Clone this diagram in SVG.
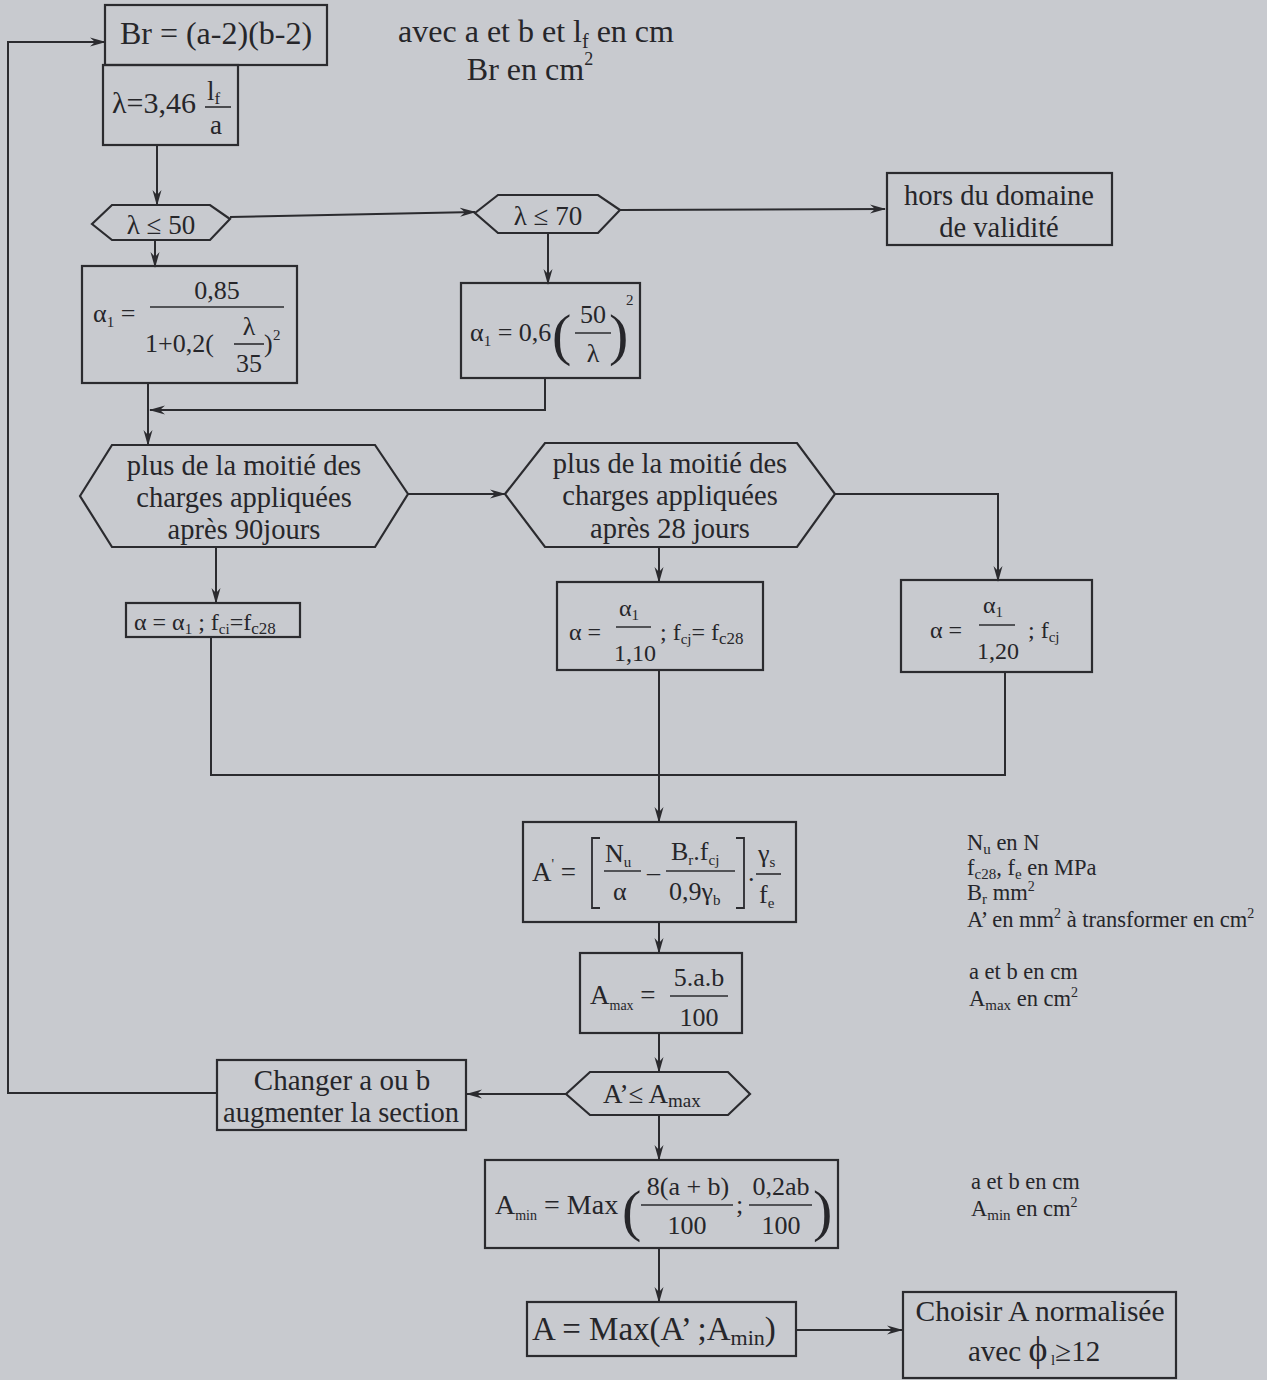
<svg xmlns="http://www.w3.org/2000/svg" width="1267" height="1380" viewBox="0 0 1267 1380" font-family="'Liberation Serif', 'Times New Roman', 'DejaVu Serif', serif">
<defs>
<marker id="arr" viewBox="0 0 16 10" markerWidth="16" markerHeight="10" refX="15" refY="5" orient="auto" markerUnits="userSpaceOnUse">
<path d="M0,0.5 L16,5 L0,9.5 L5,5 z" fill="#2b2b2f"/>
</marker>
<style>
.bg{fill:#c8cacf}
.n{fill:none;stroke:#2b2b2f;stroke-width:2.2}
.c{fill:none;stroke:#2b2b2f;stroke-width:2}
.ca{fill:none;stroke:#2b2b2f;stroke-width:2;marker-end:url(#arr)}
.fl{stroke:#2b2b2f;stroke-width:1.6}
text{font-family:'Liberation Serif','Times New Roman','DejaVu Serif',serif;fill:#26262a}
.t{font-size:29px}
.tc{font-size:28.5px;text-anchor:middle}
.m{font-size:26px}
.mc{font-size:26px;text-anchor:middle}
.sub{font-size:15px}
.note{font-size:22.5px}
.nsub{font-size:15px}
.sm{font-size:24px}
.smsub{font-size:15px}
</style>
</defs>
<rect class="bg" x="0" y="0" width="1267" height="1380"/>

<g id="connectors">
<polyline class="ca" points="217,1093 8,1093 8,42 105,42"/>
<line class="ca" x1="157" y1="145" x2="157" y2="205"/>
<line class="ca" x1="230" y1="217" x2="475" y2="212"/>
<line class="ca" x1="620" y1="210" x2="885" y2="209"/>
<line class="ca" x1="155" y1="240" x2="155" y2="267"/>
<line class="ca" x1="548" y1="233" x2="548" y2="284"/>
<polyline class="ca" points="545,378 545,410 150,410"/>
<line class="ca" x1="148" y1="383" x2="148" y2="445"/>
<line class="ca" x1="408" y1="494" x2="505" y2="494"/>
<polyline class="ca" points="835,494 998,494 998,581"/>
<line class="ca" x1="216" y1="547" x2="216" y2="603"/>
<line class="ca" x1="659" y1="547" x2="659" y2="582"/>
<polyline class="c" points="211,637 211,775 1005,775 1005,672"/>
<line class="ca" x1="659" y1="670" x2="659" y2="822"/>
<line class="ca" x1="659" y1="922" x2="659" y2="953"/>
<line class="ca" x1="659" y1="1033" x2="659" y2="1072"/>
<line class="ca" x1="566" y1="1094" x2="467" y2="1094"/>
<line class="ca" x1="659" y1="1115" x2="659" y2="1160"/>
<line class="ca" x1="659" y1="1248" x2="659" y2="1302"/>
<line class="ca" x1="796" y1="1330" x2="902" y2="1330"/>
</g>

<g id="n-br">
<rect class="n" x="105" y="5" width="222" height="60"/>
<text x="216" y="44" style="font-size:32px;text-anchor:middle">Br = (a-2)(b-2)</text>
</g>

<g id="n-lambda">
<rect class="n" x="103" y="65" width="135" height="80"/>
<text x="112" y="113" style="font-size:30px">λ=3,46</text>
<text x="207" y="100" style="font-size:27px">l<tspan style="font-size:17px" dy="4">f</tspan></text>
<line class="fl" x1="205" y1="107" x2="231" y2="107"/>
<text x="210" y="134" style="font-size:27px">a</text>
</g>

<g id="note-top">
<text x="536" y="42" style="font-size:32px;text-anchor:middle">avec a et b et l<tspan style="font-size:20px" dy="6">f</tspan><tspan dy="-6"> en cm</tspan></text>
<text x="530" y="80" style="font-size:32px;text-anchor:middle">Br en cm<tspan style="font-size:18px" dy="-15">2</tspan></text>
</g>

<g id="n-d50">
<polygon class="n" points="92,224 112,205 210,205 230,219 210,240 112,240"/>
<text x="161" y="234" style="font-size:27px;text-anchor:middle">λ ≤ 50</text>
</g>

<g id="n-d70">
<polygon class="n" points="475,213 498,195 598,195 620,210 598,233 498,233"/>
<text x="548" y="225" style="font-size:27px;text-anchor:middle">λ ≤ 70</text>
</g>

<g id="n-hors">
<rect class="n" x="887" y="173" width="225" height="72"/>
<text class="tc" x="999" y="205">hors du domaine</text>
<text class="tc" x="999" y="237">de validité</text>
</g>

<g id="n-alpha1a">
<rect class="n" x="82" y="266" width="215" height="117"/>
<text class="m" x="93" y="322">α<tspan class="sub" dy="5">1</tspan><tspan dy="-5"> =</tspan></text>
<text class="mc" x="217" y="299">0,85</text>
<line class="fl" x1="150" y1="307" x2="284" y2="307"/>
<text class="m" x="145" y="352">1+0,2(</text>
<text class="mc" x="249" y="335">λ</text>
<line class="fl" x1="234" y1="344" x2="264" y2="344"/>
<text class="mc" x="249" y="372">35</text>
<text class="m" x="264" y="352">)</text>
<text class="sub" x="273" y="340">2</text>
</g>

<g id="n-alpha1b">
<rect class="n" x="461" y="283" width="179" height="95"/>
<text class="m" x="470" y="341">α<tspan class="sub" dy="5">1</tspan><tspan dy="-5"> = 0,6</tspan></text>
<text x="552" y="354" style="font-size:58px;font-weight:300">(</text>
<text class="mc" x="593" y="323">50</text>
<line class="fl" x1="575" y1="333" x2="611" y2="333"/>
<text class="mc" x="593" y="362">λ</text>
<text x="609" y="354" style="font-size:58px;font-weight:300">)</text>
<text class="sub" x="626" y="305">2</text>
</g>

<g id="n-h90">
<polygon class="n" points="80,496 112,445 375,445 408,494 375,547 112,547"/>
<text class="tc" x="244" y="475">plus de la moitié des</text>
<text class="tc" x="244" y="507">charges appliquées</text>
<text class="tc" x="244" y="539">après 90jours</text>
</g>

<g id="n-h28">
<polygon class="n" points="505,494 545,443 797,443 835,494 797,547 545,547"/>
<text class="tc" x="670" y="473">plus de la moitié des</text>
<text class="tc" x="670" y="505">charges appliquées</text>
<text class="tc" x="670" y="538">après 28 jours</text>
</g>

<g id="n-a90">
<rect class="n" x="126" y="603" width="174" height="34"/>
<text x="134" y="630" style="font-size:24px">α = α<tspan class="smsub" dy="4">1</tspan><tspan dy="-4"> ; f</tspan><tspan class="smsub" dy="4">ci</tspan><tspan dy="-4">=f</tspan><tspan style="font-size:17px" dy="4">c28</tspan></text>
</g>

<g id="n-a28">
<rect class="n" x="557" y="582" width="206" height="88"/>
<text class="sm" x="569" y="640">α =</text>
<text class="sm" x="619" y="616">α<tspan class="smsub" dy="4">1</tspan></text>
<line class="fl" x1="616" y1="627" x2="651" y2="627"/>
<text class="sm" x="614" y="661">1,10</text>
<text class="sm" x="660" y="640">; f<tspan class="smsub" dy="4">cj</tspan><tspan dy="-4">= f</tspan><tspan style="font-size:17px" dy="4">c28</tspan></text>
</g>

<g id="n-a20">
<rect class="n" x="901" y="580" width="191" height="92"/>
<text class="sm" x="930" y="638">α =</text>
<text class="sm" x="983" y="613">α<tspan class="smsub" dy="4">1</tspan></text>
<line class="fl" x1="979" y1="625" x2="1015" y2="625"/>
<text class="sm" x="977" y="659">1,20</text>
<text class="sm" x="1028" y="638">; f<tspan class="smsub" dy="4">cj</tspan></text>
</g>

<g id="n-aprime">
<rect class="n" x="523" y="822" width="273" height="100"/>
<text x="532" y="881" style="font-size:27px">A<tspan style="font-size:14px" dy="-12">'</tspan><tspan dy="12"> =</tspan></text>
<path class="c" d="M600,838 L592,838 L592,908 L600,908" style="stroke-width:1.8"/>
<text class="m" x="605" y="862">N<tspan class="sub" dy="5">u</tspan></text>
<line class="fl" x1="604" y1="871" x2="641" y2="871"/>
<text class="m" x="613" y="900">α</text>
<text class="m" x="647" y="881">–</text>
<text class="m" x="671" y="860">B<tspan class="sub" dy="5">r</tspan><tspan dy="-5">.f</tspan><tspan class="sub" dy="5">cj</tspan></text>
<line class="fl" x1="666" y1="871" x2="735" y2="871"/>
<text class="m" x="669" y="900">0,9γ<tspan class="sub" dy="5">b</tspan></text>
<path class="c" d="M736,838 L744,838 L744,908 L736,908" style="stroke-width:1.8"/>
<text class="m" x="748" y="881">.</text>
<text class="m" x="758" y="862">γ<tspan class="sub" dy="5">s</tspan></text>
<line class="fl" x1="756" y1="874" x2="781" y2="874"/>
<text class="m" x="759" y="903">f<tspan class="sub" dy="5">e</tspan></text>
</g>

<g id="note-aprime">
<text class="note" x="967" y="850">N<tspan class="nsub" dy="4">u</tspan><tspan dy="-4"> en N</tspan></text>
<text class="note" x="967" y="875">f<tspan class="nsub" dy="4">c28</tspan><tspan dy="-4">, f</tspan><tspan class="nsub" dy="4">e</tspan><tspan dy="-4"> en MPa</tspan></text>
<text class="note" x="967" y="900">B<tspan class="nsub" dy="4">r</tspan><tspan dy="-4"> mm</tspan><tspan style="font-size:14px" dy="-9">2</tspan></text>
<text class="note" x="967" y="927">A’ en mm<tspan style="font-size:14px" dy="-9">2</tspan><tspan dy="9"> à transformer en cm</tspan><tspan style="font-size:14px" dy="-9">2</tspan></text>
</g>

<g id="n-amax">
<rect class="n" x="580" y="953" width="162" height="80"/>
<text x="590" y="1004" style="font-size:27px">A<tspan style="font-size:14px" dy="6">max</tspan><tspan dy="-6"> =</tspan></text>
<text class="mc" x="699" y="986">5.a.b</text>
<line class="fl" x1="670" y1="996" x2="728" y2="996"/>
<text class="mc" x="699" y="1026">100</text>
</g>

<g id="note-amax">
<text class="note" x="969" y="979">a et b en cm</text>
<text class="note" x="969" y="1006">A<tspan class="nsub" dy="4">max</tspan><tspan dy="-4"> en cm</tspan><tspan style="font-size:14px" dy="-9">2</tspan></text>
</g>

<g id="n-test">
<polygon class="n" points="566,1094 590,1072 728,1072 750,1094 728,1115 590,1115"/>
<text x="603" y="1103" style="font-size:27px">A’≤ A<tspan style="font-size:19px" dy="4">max</tspan></text>
</g>

<g id="n-changer">
<rect class="n" x="217" y="1060" width="249" height="70"/>
<text x="342" y="1090" style="font-size:29px;text-anchor:middle">Changer a ou b</text>
<text x="341" y="1122" style="font-size:28.5px;text-anchor:middle">augmenter la section</text>
</g>

<g id="n-amin">
<rect class="n" x="485" y="1160" width="353" height="88"/>
<text x="495" y="1214" style="font-size:28px">A<tspan style="font-size:14px" dy="6">min</tspan><tspan dy="-6"> = Max</tspan></text>
<text x="622" y="1230" style="font-size:58px;font-weight:300">(</text>
<text class="mc" x="688" y="1195">8(a + b)</text>
<line class="fl" x1="641" y1="1205" x2="733" y2="1205"/>
<text class="mc" x="687" y="1234">100</text>
<text class="m" x="736" y="1213">;</text>
<text class="mc" x="781" y="1195">0,2ab</text>
<line class="fl" x1="749" y1="1205" x2="812" y2="1205"/>
<text class="mc" x="781" y="1234">100</text>
<text x="813" y="1230" style="font-size:58px;font-weight:300">)</text>
</g>

<g id="note-amin">
<text class="note" x="971" y="1189">a et b en cm</text>
<text class="note" x="971" y="1216">A<tspan class="nsub" dy="4">min</tspan><tspan dy="-4"> en cm</tspan><tspan style="font-size:14px" dy="-9">2</tspan></text>
</g>

<g id="n-a">
<rect class="n" x="527" y="1302" width="269" height="54"/>
<text x="532" y="1340" style="font-size:33px">A = Max(A’ ;A<tspan style="font-size:22px" dy="5">min</tspan><tspan dy="-5">)</tspan></text>
</g>

<g id="n-choisir">
<rect class="n" x="903" y="1292" width="273" height="86"/>
<text x="1040" y="1321" style="font-size:29.5px;text-anchor:middle">Choisir A normalisée</text>
<text x="968" y="1361" style="font-size:29px">avec <tspan style="font-size:36px">ϕ</tspan><tspan style="font-size:15px" dy="4"> l</tspan><tspan dy="-4">≥12</tspan></text>
</g>
</svg>
